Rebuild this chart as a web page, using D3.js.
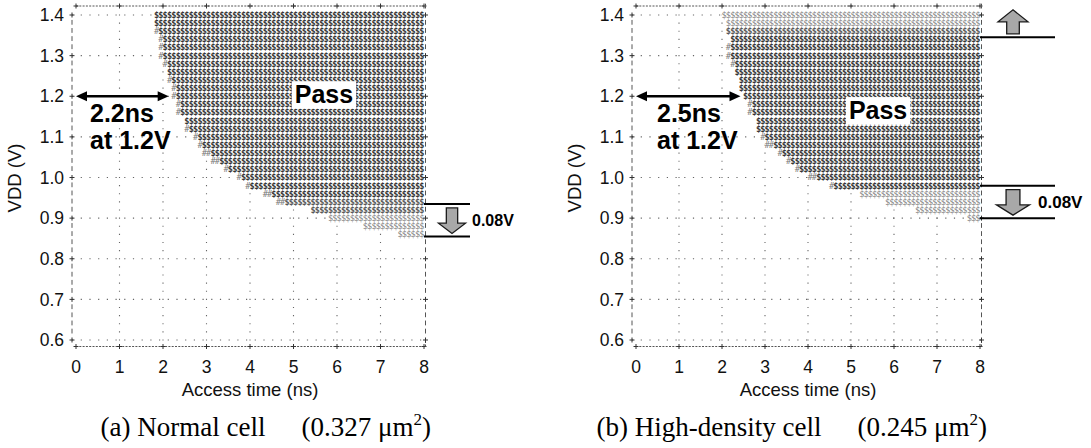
<!DOCTYPE html>
<html>
<head>
<meta charset="utf-8">
<script src="https://cdn.jsdelivr.net/npm/d3@7"></script>
<style>
  html, body { margin: 0; padding: 0; background: #fff; }
  svg { display: block; }
</style>
</head>
<body>
<svg id="chart" width="1091" height="448"></svg>
<script>
// ---- Shmoo data -----------------------------------------------------------
// Axis ticks
const timeTicks = [0, 1, 2, 3, 4, 5, 6, 7, 8];
const vddTicks = [0.6, 0.7, 0.8, 0.9, 1.0, 1.1, 1.2, 1.3, 1.4];
const vddTickLabels = ["0.6", "0.7", "0.8", "0.9", "1.0", "1.1", "1.2", "1.3", "1.4"];
const timeStep = 0.1;   // ns per shmoo column
const vddStep = 0.02;   // V per shmoo row

// (a) Normal cell: VDD of each row, first passing access time,
// number of marginal '#' columns before it, and print density (2 dark, 1 mixed, 0 light)
const normalRowVdd = [1.40, 1.38, 1.36, 1.34, 1.32, 1.30, 1.28, 1.26, 1.24, 1.22, 1.20, 1.18, 1.16, 1.14,
                      1.12, 1.10, 1.08, 1.06, 1.04, 1.02, 1.00, 0.98, 0.96, 0.94, 0.92, 0.90, 0.88, 0.86];
const normalFirstPass = [1.8, 1.8, 1.9, 2.0, 2.0, 2.0, 2.1, 2.1, 2.2, 2.3, 2.3, 2.4, 2.4, 2.5,
                         2.6, 2.8, 2.9, 3.1, 3.3, 3.5, 3.8, 4.0, 4.5, 4.8, 5.4, 5.8, 6.6, 7.4];
const normalEdgeMarks = [0, 0, 1, 1, 1, 1, 1, 0, 1, 1, 1, 1, 1, 0,
                         1, 1, 1, 2, 2, 1, 1, 1, 2, 2, 0, 0, 0, 0];
const normalShade = [2, 2, 2, 2, 2, 2, 2, 2, 2, 2, 2, 2, 2, 2,
                     2, 2, 2, 2, 2, 2, 2, 2, 2, 1, 1, 0, 0, 0];
const normalMargin = 2.2;            // ns at 1.2 V
const normalGap = [0.935, 0.855];    // 0.08 V shift

// (b) High-density cell
const denseRowVdd = [1.40, 1.38, 1.36, 1.34, 1.32, 1.30, 1.28, 1.26, 1.24, 1.22, 1.20, 1.18, 1.16,
                     1.14, 1.12, 1.10, 1.08, 1.06, 1.04, 1.02, 1.00, 0.98, 0.96, 0.94, 0.92, 0.90];
const denseFirstPass = [2.0, 2.1, 2.1, 2.2, 2.2, 2.2, 2.3, 2.3, 2.4, 2.4, 2.5, 2.7, 2.7,
                        2.8, 2.8, 3.0, 3.2, 3.4, 3.6, 3.8, 4.2, 4.6, 5.2, 5.8, 6.5, 7.7];
const denseEdgeMarks = [0, 0, 0, 0, 1, 1, 1, 0, 0, 0, 0, 1, 1,
                        0, 0, 1, 2, 1, 1, 1, 2, 1, 0, 0, 0, 0];
const denseShade = [0, 0, 1, 2, 2, 2, 2, 2, 2, 2, 2, 2, 2,
                    2, 2, 2, 2, 2, 2, 2, 2, 2, 0, 0, 0, 0];
const denseMargin = 2.5;             // ns at 1.2 V
const denseGap = [0.98, 0.90];       // 0.08 V shift
const denseUpperLimit = 1.345;

// ---- Drawing ---------------------------------------------------------------
const SANS = "'Liberation Sans', Arial, Helvetica, sans-serif";
const SERIF = "'Liberation Serif', 'Times New Roman', serif";
const MONO = "'DejaVu Sans Mono', monospace";

const svg = d3.select("#chart");
const y = d3.scaleLinear().domain([0.6, 1.4]).range([340, 15]);
const rowH = y(1.4 - vddStep) - y(1.4);
const nCols = Math.round(8 / timeStep);

const panels = [
  {
    xRange: [76, 424],
    rows: normalRowVdd, firstPass: normalFirstPass, edgeMarks: normalEdgeMarks, shade: normalShade,
    margin: normalMargin, marginText: ["2.2ns", "at 1.2V"], marginDx: 14,
    passAt: [5.7, 1.205],
    gap: normalGap, gapText: "0.08V", gapLineLen: 46, gapArrowDx: 28, gapArrowW: 27,
    gapTextDx: 48, gapFont: 16,
    upper: null,
    caption: ["(a) Normal cell", "(0.327 \u03bcm", "2", ")"]
  },
  {
    xRange: [636, 980],
    rows: denseRowVdd, firstPass: denseFirstPass, edgeMarks: denseEdgeMarks, shade: denseShade,
    margin: denseMargin, marginText: ["2.5ns", "at 1.2V"], marginDx: 21,
    passAt: [5.63, 1.166],
    gap: denseGap, gapText: "0.08V", gapLineLen: 75, gapArrowDx: 33, gapArrowW: 33,
    gapTextDx: 58, gapFont: 17,
    upper: denseUpperLimit,
    caption: ["(b) High-density cell", "(0.245 \u03bcm", "2", ")"]
  }
];

function blockArrow(cx, yTail, yTip, w, headFrac) {
  const dir = yTip > yTail ? 1 : -1;
  const len = Math.abs(yTip - yTail);
  const yHead = yTip - dir * len * headFrac;
  const s = w * 0.21, h = w / 2;
  return [[cx - s, yTail], [cx + s, yTail], [cx + s, yHead], [cx + h, yHead],
          [cx, yTip], [cx - h, yHead], [cx - s, yHead]];
}

function plus(g, cx, cy) {
  g.append("path")
    .attr("d", `M${cx - 2.5},${cy}H${cx + 2.5}M${cx},${cy - 2.5}V${cy + 2.5}`)
    .attr("stroke", "#333").attr("stroke-width", 1).attr("fill", "none");
}

panels.forEach(p => {
  const x = d3.scaleLinear().domain([0, 8]).range(p.xRange);
  const g = svg.append("g");
  const left = x(0) - 4, right = x(8) + 1.5;
  const top = y(1.4) - 9, bottom = y(0.6) + 6.5;

  // dotted grid
  g.append("g").selectAll("line").data(vddTicks).join("line")
    .attr("x1", left).attr("x2", right)
    .attr("y1", d => y(d)).attr("y2", d => y(d))
    .attr("stroke", "#666").attr("stroke-width", 1.1)
    .attr("stroke-dasharray", "1.2,7.5");
  g.append("g").selectAll("line").data(timeTicks.slice(1, -1)).join("line")
    .attr("x1", d => x(d)).attr("x2", d => x(d))
    .attr("y1", y(1.4) - 0.6).attr("y2", y(0.6) + 1)
    .attr("stroke", "#666").attr("stroke-width", 1.1)
    .attr("stroke-dasharray", `1.2,${(rowH - 1.2).toFixed(3)}`);

  // shmoo rows
  const rows = p.rows.map((v, i) => ({
    v, first: p.firstPass[i], edge: p.edgeMarks[i], shade: p.shade[i]
  }));
  g.append("g").selectAll("rect").data(rows).join("rect")
    .attr("x", d => x(d.first - d.edge * timeStep) - 0.5)
    .attr("width", d => x(8) - x(d.first - d.edge * timeStep) + 0.5)
    .attr("y", d => y(d.v) - rowH / 2).attr("height", rowH)
    .attr("fill", "#fff");

  const cells = rows.flatMap(r => {
    const k0 = Math.round(r.first / timeStep) - r.edge;
    const kPass = Math.round(r.first / timeStep);
    return d3.range(k0, nCols).map(k => ({ v: r.v, t: k * timeStep, mark: k < kPass ? "#" : "$", shade: r.shade }));
  });
  const fillOf = d => d.mark === "#" ? "#7a7a7a" : (d.shade === 2 ? "#353535" : d.shade === 1 ? "#595959" : "#808080");
  g.append("g")
    .attr("opacity", 0.995)
    .attr("font-family", MONO).attr("font-size", 8.6).attr("text-anchor", "middle")
    .selectAll("text").data(cells).join("text")
    .attr("x", d => x(d.t + timeStep / 2))
    .attr("y", d => y(d.v) + 2.9)
    .attr("fill", fillOf)
    .attr("font-weight", d => d.mark === "$" && d.shade > 0 ? "bold" : "normal")
    .text(d => d.mark);

  // frame
  const frame = g.append("g");
  [top, bottom].forEach(yy => {
    frame.append("line").attr("x1", x(0)).attr("x2", x(8)).attr("y1", yy).attr("y2", yy)
      .attr("stroke", "#555").attr("stroke-width", 1).attr("stroke-dasharray", "2,1.3");
    timeTicks.forEach(t => plus(frame, x(t), yy));
  });
  const leftRows = d3.range(30, 71).map(i => i * vddStep);
  const rightRows = d3.range(30, 72).map(i => i * vddStep);
  const isTick = v => Math.abs(v * 10 - Math.round(v * 10)) < 1e-6;
  frame.selectAll(".lb").data(leftRows.filter(v => !isTick(v))).join("line")
    .attr("x1", left).attr("x2", left)
    .attr("y1", d => y(d) - 3.2).attr("y2", d => y(d) + 1.6)
    .attr("stroke", "#555").attr("stroke-width", 1);
  frame.selectAll(".rb").data(rightRows.filter(v => !isTick(v))).join("line")
    .attr("x1", right).attr("x2", right)
    .attr("y1", d => y(d) - 3.2).attr("y2", d => y(d) + 1.6)
    .attr("stroke", "#555").attr("stroke-width", 1);
  frame.append("line").attr("x1", right).attr("x2", right)
    .attr("y1", y(0.6)).attr("y2", bottom)
    .attr("stroke", "#555").attr("stroke-width", 1).attr("stroke-dasharray", "3,1.5");
  vddTicks.forEach(v => { plus(frame, left, y(v)); plus(frame, right, y(v)); });

  // tick labels
  g.append("g").selectAll("text").data(vddTicks).join("text")
    .attr("x", x(0) - 12).attr("y", d => y(d) + 6.2)
    .attr("text-anchor", "end").attr("font-family", SANS).attr("font-size", 17.5).attr("fill", "#111")
    .text((d, i) => vddTickLabels[i]);
  g.append("g").selectAll("text").data(timeTicks).join("text")
    .attr("x", d => x(d)).attr("y", 372.5)
    .attr("text-anchor", "middle").attr("font-family", SANS).attr("font-size", 17.5).attr("fill", "#111")
    .text(d => d);

  // axis titles
  g.append("text").attr("x", x(4)).attr("y", 396)
    .attr("text-anchor", "middle").attr("font-family", SANS).attr("font-size", 18.5).attr("fill", "#111")
    .text("Access time (ns)");
  g.append("text")
    .attr("transform", `translate(${x(0) - 55},178) rotate(-90)`)
    .attr("text-anchor", "middle").attr("font-family", SANS).attr("font-size", 18.5).attr("fill", "#111")
    .text("VDD (V)");

  // "Pass" label on white box
  const passG = g.append("g");
  const passText = passG.append("text")
    .attr("x", x(p.passAt[0])).attr("y", y(p.passAt[1]) + 9)
    .attr("text-anchor", "middle").attr("font-family", SANS).attr("font-weight", "bold")
    .attr("font-size", 25).attr("fill", "#000").text("Pass");
  const bb = passText.node().getBBox();
  passG.insert("rect", "text")
    .attr("x", bb.x - 3).attr("y", bb.y + 1).attr("width", bb.width + 6).attr("height", bb.height - 0.5)
    .attr("fill", "#fff");

  // access-time arrow at 1.2 V
  const ya = y(1.2);
  const xa0 = x(0), xa1 = x(p.margin) - 3;
  g.append("line").attr("x1", xa0 + 6).attr("x2", xa1 - 6).attr("y1", ya).attr("y2", ya)
    .attr("stroke", "#000").attr("stroke-width", 2.6);
  g.append("path").attr("d", `M${xa0},${ya}L${xa0 + 11},${ya - 5}L${xa0 + 11},${ya + 5}Z`).attr("fill", "#000");
  g.append("path").attr("d", `M${xa1},${ya}L${xa1 - 11},${ya - 5}L${xa1 - 11},${ya + 5}Z`).attr("fill", "#000");
  g.append("text").attr("x", x(0) + p.marginDx).attr("y", ya + 26)
    .attr("font-family", SANS).attr("font-weight", "bold").attr("font-size", 25).text(p.marginText[0]);
  g.append("text").attr("x", x(0) + p.marginDx).attr("y", ya + 53)
    .attr("font-family", SANS).attr("font-weight", "bold").attr("font-size", 25).text(p.marginText[1]);

  // minimum-VDD shift annotation
  const y1 = y(p.gap[0]), y2 = y(p.gap[1]);
  [y1, y2].forEach(yy => g.append("line")
    .attr("x1", x(8)).attr("x2", x(8) + p.gapLineLen).attr("y1", yy).attr("y2", yy)
    .attr("stroke", "#000").attr("stroke-width", 2));
  g.append("polygon")
    .attr("points", blockArrow(x(8) + p.gapArrowDx, y1 + 4, y2 - 3, p.gapArrowW, 0.4).join(" "))
    .attr("fill", "#a8a8a8").attr("stroke", "#1a1a1a").attr("stroke-width", 1.3);
  g.append("text").attr("x", x(8) + p.gapTextDx).attr("y", (y1 + y2) / 2 + p.gapFont * 0.37)
    .attr("font-family", SANS).attr("font-weight", "bold").attr("font-size", p.gapFont).text(p.gapText);

  if (p.upper !== null) {
    const yu = y(p.upper);
    g.append("line").attr("x1", x(8)).attr("x2", x(8) + p.gapLineLen).attr("y1", yu).attr("y2", yu)
      .attr("stroke", "#000").attr("stroke-width", 2);
    g.append("polygon")
      .attr("points", blockArrow(x(8) + p.gapArrowDx, yu - 3.5, yu - 27.5, 30, 0.5).join(" "))
      .attr("fill", "#a8a8a8").attr("stroke", "#1a1a1a").attr("stroke-width", 1.3);
  }

  // caption
  const cap = g.append("text").attr("x", x(8) + 7).attr("y", 436)
    .attr("text-anchor", "end").attr("font-family", SERIF).attr("font-size", 27).attr("fill", "#000");
  cap.append("tspan").text(p.caption[0]);
  cap.append("tspan").attr("dx", 36).text(p.caption[1]);
  cap.append("tspan").attr("dy", -11).attr("font-size", 17).text(p.caption[2]);
  cap.append("tspan").attr("dy", 11).text(p.caption[3]);
});
</script>
</body>
</html>
